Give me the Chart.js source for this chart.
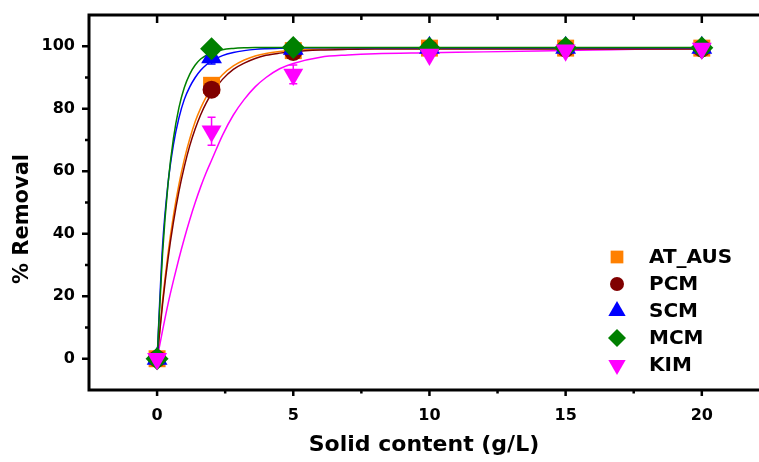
<!DOCTYPE html>
<html><head><meta charset="utf-8">
<script src="https://cdn.jsdelivr.net/npm/chart.js@4.4.0/dist/chart.umd.min.js"></script>
<style>html,body{margin:0;padding:0;background:#fff;}#wrap{width:759px;height:462px;}</style>
</head><body><div id="wrap"><canvas id="c" width="759" height="462"></canvas></div>
<script>
// ---- data ----
const seriesNames = ['AT_AUS', 'PCM', 'SCM', 'MCM', 'KIM'];
const solidContent = [0, 2, 5, 10, 15, 20];
const atAusRemoval = [0, 87.5, 98.6, 99.4, 99.4, 99.4];
const pcmRemoval   = [0, 86.1, 98.2, 99.2, 99.3, 99.3];
const scmRemoval   = [0, 96.5, 99.2, 99.5, 99.5, 99.5];
const mcmRemoval   = [0, 99.2, 99.6, 99.4, 99.5, 99.5];
const kimRemoval   = [0, 72.8, 91.0, 97.4, 98.7, 99.3];
const scmError     = [0, 2.2, 0, 0, 0, 0];
const kimError     = [0, 4.5, 3.0, 0.8, 0.6, 0.5];

// fitted curves
const fitX      = [0, 0.2, 0.4, 0.6, 0.8, 1.0, 1.2, 1.4, 1.6, 1.8, 2.0, 2.4, 2.8, 3.2, 3.6, 4.0, 4.5, 5, 6, 7, 8, 10, 12, 14, 16, 18, 20];
const atAusFit  = [0, 18.5, 33.6, 45.8, 55.7, 63.8, 70.4, 75.9, 80.2, 83.7, 86.7, 90.9, 93.7, 95.6, 96.9, 97.7, 98.3, 98.7, 99.1, 99.2, 99.3, 99.3, 99.3, 99.3, 99.3, 99.3, 99.3];
const pcmFit    = [0, 17.4, 31.9, 43.7, 53.5, 61.5, 68.2, 73.6, 78.1, 81.8, 84.8, 89.4, 92.6, 94.6, 96.1, 97.1, 97.8, 98.3, 98.8, 99.0, 99.1, 99.1, 99.1, 99.1, 99.1, 99.1, 99.1];
const scmFit    = [0, 36, 56, 68.5, 77, 83, 87, 90, 92.3, 94.0, 95.3, 97.0, 98.0, 98.6, 99.0, 99.2, 99.35, 99.45, 99.5, 99.5, 99.5, 99.5, 99.5, 99.5, 99.5, 99.5, 99.5];
const mcmFit    = [0, 33.5, 55.8, 70.5, 80.3, 86.8, 91.1, 94.0, 95.9, 97.1, 97.9, 98.9, 99.3, 99.5, 99.6, 99.6, 99.6, 99.6, 99.6, 99.6, 99.6, 99.6, 99.6, 99.6, 99.6, 99.6, 99.6];
const kimFit    = [0, 9, 17.5, 25, 32, 38.5, 44.5, 50, 55, 59.5, 63.5, 71.5, 78, 83, 87, 90, 92.8, 94.5, 96.5, 97.2, 97.6, 97.9, 98.2, 98.5, 98.8, 99.1, 99.3];

const xTickValues = [-2.5, 0, 2.5, 5, 7.5, 10, 12.5, 15, 17.5, 20];
const xTickLabels = ['', '0', '', '5', '', '10', '', '15', '', '20'];
const yTickValues = [0, 10, 20, 30, 40, 50, 60, 70, 80, 90, 100];
const yTickLabels = ['0', '', '20', '', '40', '', '60', '', '80', '', '100'];
const xAxisTitle = 'Solid content (g/L)';
const yAxisTitle = '% Removal';

// ---- styles ----
const colors = {AT_AUS: '#FF8000', PCM: '#800000', SCM: '#0000FF', MCM: '#008000', KIM: '#FF00FF'};
const FONT = "'DejaVu Sans', sans-serif";

function pts(xs, ys) { return xs.map((x, i) => ({x: x, y: ys[i]})); }

const markerDefs = [
  {name: 'AT_AUS', data: atAusRemoval, style: 'rect', radius: 12, rotation: 0, order: 4, legendRadius: 9},
  {name: 'PCM', data: pcmRemoval, style: 'circle', radius: 9, rotation: 0, order: 3, legendRadius: 7},
  {name: 'SCM', data: scmRemoval, style: 'triangle', radius: 12, rotation: 0, order: 2, legendRadius: 10},
  {name: 'MCM', data: mcmRemoval, style: 'rectRot', radius: 11.5, rotation: 0, order: 1, legendRadius: 9},
  {name: 'KIM', data: kimRemoval, style: 'triangle', radius: 11.5, rotation: 180, order: 0, legendRadius: 10}
];
const fitDefs = [
  {name: 'AT_AUS', data: atAusFit, order: 12},
  {name: 'PCM', data: pcmFit, order: 11},
  {name: 'KIM', data: kimFit, order: 13},
  {name: 'SCM', data: scmFit, order: 10},
  {name: 'MCM', data: mcmFit, order: 9}
];

const datasets = [];
markerDefs.forEach(m => datasets.push({
  label: m.name, data: pts(solidContent, m.data), showLine: false,
  pointStyle: m.style, pointRadius: m.radius, pointRotation: m.rotation,
  backgroundColor: colors[m.name], borderColor: colors[m.name], pointBorderWidth: 0,
  order: m.order, isMarker: true, legendRadius: m.legendRadius
}));
fitDefs.forEach(f => datasets.push({
  label: f.name + ' fit', data: pts(fitX, f.data), showLine: true, pointRadius: 0,
  borderColor: colors[f.name], borderWidth: 1.5, fill: false,
  cubicInterpolationMode: 'monotone', order: f.order
}));

const errorSets = [
  {name: 'SCM', values: scmRemoval, err: scmError},
  {name: 'KIM', values: kimRemoval, err: kimError}
];

function zeroPad(s) { s.paddingTop = 0; s.paddingBottom = 0; s.paddingLeft = 0; s.paddingRight = 0; }

const axesPlugin = {
  id: 'axesPlugin',
  beforeDatasetsDraw(chart) {
    const {ctx, chartArea: a, scales: {x, y}} = chart;
    ctx.save();
    ctx.strokeStyle = '#000';
    ctx.lineWidth = 3;
    ctx.beginPath();
    ctx.moveTo(a.left, a.top - 1.5); ctx.lineTo(a.left, a.bottom + 1.5);
    ctx.moveTo(a.left - 1.5, a.bottom); ctx.lineTo(a.right, a.bottom);
    ctx.moveTo(a.left - 1.5, a.top); ctx.lineTo(a.right, a.top);
    ctx.stroke();
    ctx.lineWidth = 2.5;
    ctx.beginPath();
    xTickValues.forEach(v => {
      if (v <= x.min) return;
      const px = x.getPixelForValue(v);
      const major = (v % 5 === 0);
      ctx.moveTo(px, a.bottom); ctx.lineTo(px, a.bottom + (major ? 6 : 3.5));
      ctx.moveTo(px, a.top); ctx.lineTo(px, a.top + (major ? 8 : 5));
    });
    yTickValues.forEach(v => {
      const py = y.getPixelForValue(v);
      const major = (v % 20 === 0);
      ctx.moveTo(a.left, py); ctx.lineTo(a.left - (major ? 7 : 4), py);
    });
    ctx.stroke();
    // error bars
    ctx.lineWidth = 1.5;
    errorSets.forEach(e => {
      ctx.strokeStyle = colors[e.name];
      ctx.beginPath();
      solidContent.forEach((sx, i) => {
        if (!e.err[i]) return;
        const px = x.getPixelForValue(sx);
        const top = y.getPixelForValue(e.values[i] + e.err[i]);
        const bot = y.getPixelForValue(e.values[i] - e.err[i]);
        ctx.moveTo(px, top); ctx.lineTo(px, bot);
        ctx.moveTo(px - 4, top); ctx.lineTo(px + 4, top);
        ctx.moveTo(px - 4, bot); ctx.lineTo(px + 4, bot);
      });
      ctx.stroke();
    });
    ctx.restore();
  },
  afterDraw(chart) {
    const {ctx} = chart;
    ctx.save();
    ctx.fillStyle = '#000';
    ctx.font = "bold 21px " + FONT;
    ctx.textAlign = 'center';
    ctx.textBaseline = 'middle';
    ctx.translate(23, 219);
    ctx.rotate(-Math.PI / 2);
    ctx.fillText(yAxisTitle, 0, 0);
    ctx.restore();
    // legend
    ctx.save();
    const legendX = 617, textX = 649, startY = 257, step = 27;
    let row = 0;
    chart.data.datasets.forEach(ds => {
      if (!ds.isMarker) return;
      const yy = startY + row * step;
      ctx.fillStyle = ds.backgroundColor;
      ctx.strokeStyle = ds.borderColor;
      Chart.helpers.drawPoint(ctx, {pointStyle: ds.pointStyle, rotation: ds.pointRotation, radius: ds.legendRadius, borderWidth: 0}, legendX, yy);
      ctx.fillStyle = '#000';
      ctx.font = "bold 20px " + FONT;
      ctx.textAlign = 'left';
      ctx.textBaseline = 'middle';
      ctx.fillText(ds.label, textX, yy + 1);
      row++;
    });
    ctx.restore();
  }
};

new Chart(document.getElementById('c'), {
  type: 'scatter',
  data: {datasets: datasets},
  options: {
    responsive: false, animation: false, devicePixelRatio: 1,
    layout: {autoPadding: false, padding: {top: 15, right: 0, bottom: 0, left: 0}},
    plugins: {legend: {display: false}, tooltip: {enabled: false}},
    scales: {
      x: {
        type: 'linear', position: 'bottom', min: -2.5, max: 22.1,
        afterBuildTicks: s => { s.ticks = xTickValues.map(v => ({value: v})); },
        afterFit: s => { s.height = 72; zeroPad(s); },
        ticks: {
          autoSkip: false, maxRotation: 0, padding: 16, color: '#000',
          font: {family: FONT, weight: 'bold', size: 16},
          callback: (v, i) => xTickLabels[i]
        },
        grid: {display: false, drawTicks: false},
        border: {display: false},
        title: {display: true, text: xAxisTitle, color: '#000', font: {family: FONT, weight: 'bold', size: 22}, padding: {top: 0, bottom: 4}}
      },
      y: {
        type: 'linear', min: -10, max: 110,
        afterBuildTicks: s => { s.ticks = yTickValues.map(v => ({value: v})); },
        afterFit: s => { s.width = 89; zeroPad(s); },
        ticks: {
          autoSkip: false, padding: 14, color: '#000',
          font: {family: FONT, weight: 'bold', size: 16},
          callback: (v, i) => yTickLabels[i]
        },
        grid: {display: false, drawTicks: false},
        border: {display: false}
      }
    }
  },
  plugins: [axesPlugin]
});
</script>
</body></html>
